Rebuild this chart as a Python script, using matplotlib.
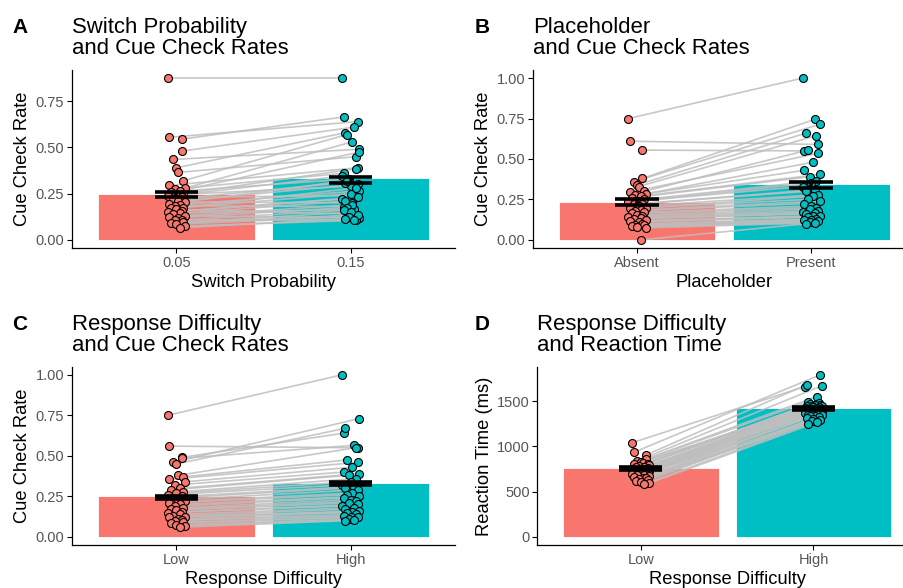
import numpy as np
import matplotlib
matplotlib.use("Agg")
import matplotlib.pyplot as plt

plt.rcParams['font.family'] = ['Liberation Sans', 'DejaVu Sans']

# colours (ggplot default two-level palette)
col_lo = '#F8766D'
col_hi = '#00BFC4'

# ---- panel A : switch probability
a_levels = ['0.05', '0.15']
a_left = [0.875, 0.555, 0.545, 0.48, 0.435, 0.39, 0.365, 0.32, 0.295, 0.28,
          0.275, 0.265, 0.26, 0.25, 0.245, 0.235, 0.23, 0.22, 0.21, 0.205,
          0.195, 0.19, 0.185, 0.175, 0.17, 0.165, 0.155, 0.15, 0.145, 0.14,
          0.13, 0.125, 0.12, 0.11, 0.105, 0.095, 0.09, 0.085, 0.075, 0.065]
a_right = [0.875, 0.64, 0.665, 0.61, 0.49, 0.58, 0.45, 0.57, 0.39, 0.53,
           0.36, 0.475, 0.33, 0.385, 0.29, 0.345, 0.24, 0.31, 0.3, 0.2,
           0.32, 0.265, 0.18, 0.25, 0.28, 0.14, 0.23, 0.22, 0.165, 0.21,
           0.12, 0.19, 0.175, 0.11, 0.16, 0.15, 0.135, 0.125, 0.105, 0.115]
a_bar = [0.25, 0.335]
a_mean = [0.245, 0.325]
a_se = [0.015, 0.015]

# ---- panel B : placeholder
b_levels = ['Absent', 'Present']
b_left = [0.75, 0.61, 0.555, 0.38, 0.36, 0.34, 0.33, 0.3, 0.295, 0.285,
          0.275, 0.27, 0.26, 0.25, 0.24, 0.235, 0.225, 0.22, 0.21, 0.2,
          0.195, 0.185, 0.18, 0.17, 0.165, 0.155, 0.15, 0.14, 0.135, 0.13,
          0.12, 0.115, 0.11, 0.1, 0.095, 0.09, 0.085, 0.08, 0.075, 0.0]
b_right = [1.0, 0.59, 0.55, 0.745, 0.715, 0.66, 0.645, 0.555, 0.535, 0.48,
           0.43, 0.405, 0.39, 0.365, 0.35, 0.33, 0.31, 0.3, 0.28, 0.27,
           0.25, 0.24, 0.225, 0.21, 0.2, 0.19, 0.18, 0.17, 0.165, 0.16,
           0.15, 0.145, 0.14, 0.13, 0.125, 0.12, 0.115, 0.11, 0.105, 0.1]
b_bar = [0.235, 0.344]
b_mean = [0.232, 0.338]
b_se = [0.018, 0.02]

# ---- panel C : response difficulty, cue checks
c_levels = ['Low', 'High']
c_left = [0.75, 0.56, 0.49, 0.485, 0.46, 0.45, 0.38, 0.37, 0.355, 0.34,
          0.32, 0.3, 0.29, 0.28, 0.27, 0.26, 0.25, 0.24, 0.23, 0.22,
          0.21, 0.2, 0.19, 0.18, 0.17, 0.165, 0.155, 0.15, 0.14, 0.13,
          0.125, 0.12, 0.11, 0.105, 0.1, 0.09, 0.085, 0.075, 0.07, 0.06]
c_right = [1.0, 0.55, 0.64, 0.565, 0.73, 0.67, 0.55, 0.475, 0.46, 0.43,
           0.4, 0.39, 0.38, 0.36, 0.34, 0.32, 0.31, 0.3, 0.29, 0.27,
           0.26, 0.25, 0.24, 0.23, 0.22, 0.21, 0.2, 0.19, 0.18, 0.17,
           0.16, 0.155, 0.15, 0.14, 0.13, 0.125, 0.12, 0.11, 0.105, 0.1]
c_bar = [0.253, 0.334]
c_mean = [0.245, 0.33]
c_se = [0.01, 0.01]

# ---- panel D : response difficulty, reaction time
d_levels = ['Low', 'High']
d_left = [1040, 935, 905, 860, 840, 830, 820, 810, 800, 790,
          785, 775, 770, 760, 755, 750, 745, 740, 735, 730,
          725, 720, 715, 710, 705, 700, 695, 690, 685, 680,
          670, 660, 655, 645, 635, 625, 615, 605, 595, 585]
d_right = [1660, 1790, 1680, 1550, 1670, 1495, 1480, 1470, 1460, 1455,
           1450, 1445, 1440, 1435, 1430, 1425, 1420, 1415, 1410, 1405,
           1400, 1395, 1390, 1385, 1380, 1375, 1370, 1365, 1360, 1350,
           1345, 1340, 1330, 1320, 1310, 1300, 1290, 1280, 1265, 1250]
d_bar = [764, 1427]
d_mean = [753, 1419]
d_se = [18, 18]

# horizontal jitter
jit_l = [-0.05, -0.04, 0.03, 0.03, -0.02, 0.0, 0.01, 0.04, -0.04, 0.05,
         -0.01, 0.02, -0.03, 0.04, 0.0, -0.05, 0.03, -0.02, 0.01, 0.05,
         -0.04, 0.02, -0.01, 0.04, -0.03, 0.0, 0.03, -0.05, 0.02, -0.02,
         0.05, -0.04, 0.01, 0.03, -0.01, 0.04, -0.03, 0.0, 0.05, 0.02]
jit_r = [-0.05, 0.04, -0.04, 0.02, 0.05, -0.03, 0.03, -0.02, 0.04, 0.01,
         -0.04, 0.05, -0.01, 0.03, 0.0, -0.05, 0.02, -0.03, 0.04, 0.01,
         -0.02, 0.05, -0.04, 0.0, 0.03, -0.01, 0.04, -0.05, 0.02, -0.03,
         0.05, 0.01, -0.02, 0.03, -0.04, 0.0, 0.04, -0.01, 0.02, -0.03]

W, H = 904, 588
fig = plt.figure(figsize=(W / 100, H / 100), dpi=100)


def px_axes(left, top, right, bottom):
    return fig.add_axes([left / W, 1 - bottom / H, (right - left) / W, (bottom - top) / H])


def panel(ax, left, right, levels, bars, means, ses, ylim, yticks, fmt, ylabel, xlabel):
    x = np.array([1, 2])
    ax.bar(x, bars, width=0.9, color=[col_lo, col_hi], edgecolor='white', linewidth=0.6, zorder=1)
    xl = x[0] + np.array(jit_l)
    xr = x[1] + np.array(jit_r)
    for i in range(len(left)):
        ax.plot([xl[i], xr[i]], [left[i], right[i]], color='#BEBEBE', lw=1.2, alpha=0.85, zorder=2)
    ax.scatter(xl, left, s=33, facecolor=col_lo, edgecolor='black', linewidth=0.8, zorder=3)
    ax.scatter(xr, right, s=33, facecolor=col_hi, edgecolor='black', linewidth=0.8, zorder=3)
    for xi, m, s in zip(x, means, ses):
        ax.hlines([m - s, m + s], xi - 0.125, xi + 0.125, color='black', lw=2.6, zorder=4)
        ax.vlines(xi, m - s, m + s, color='black', lw=2.6, zorder=4)
    ax.set_xlim(0.4, 2.6)
    ax.set_ylim(*ylim)
    ax.set_xticks(x)
    ax.set_xticklabels(levels)
    ax.set_yticks(yticks)
    ax.set_yticklabels([fmt.format(v) for v in yticks])
    for s in ['top', 'right']:
        ax.spines[s].set_visible(False)
    for s in ['left', 'bottom']:
        ax.spines[s].set_linewidth(0.9)
    ax.tick_params(labelsize=10.5, labelcolor='#555555', length=3.5, width=0.8, pad=2)
    ax.set_ylabel(ylabel, fontsize=13.2, labelpad=3)
    ax.set_xlabel(xlabel, fontsize=13.2, labelpad=3)


axA = px_axes(72, 70, 455, 248)
panel(axA, a_left, a_right, a_levels, a_bar, a_mean, a_se, (-0.044, 0.919),
      [0, 0.25, 0.5, 0.75], '{:.2f}', 'Cue Check Rate', 'Switch Probability')
axB = px_axes(532.7, 70, 915.7, 248)
panel(axB, b_left, b_right, b_levels, b_bar, b_mean, b_se, (-0.05, 1.05),
      [0, 0.25, 0.5, 0.75, 1.0], '{:.2f}', 'Cue Check Rate', 'Placeholder')
axC = px_axes(72, 366.7, 455, 545)
panel(axC, c_left, c_right, c_levels, c_bar, c_mean, c_se, (-0.05, 1.05),
      [0, 0.25, 0.5, 0.75, 1.0], '{:.2f}', 'Cue Check Rate', 'Response Difficulty')
axD = px_axes(537.3, 366.7, 917, 545)
panel(axD, d_left, d_right, d_levels, d_bar, d_mean, d_se, (-89.5, 1879.5),
      [0, 500, 1000, 1500], '{:.0f}', 'Reaction Time (ms)', 'Response Difficulty')

titles = [('A', 'Switch Probability\nand Cue Check Rates', 12, 72, 17),
          ('B', 'Placeholder\nand Cue Check Rates', 475, 533, 17),
          ('C', 'Response Difficulty\nand Cue Check Rates', 12, 72, 314),
          ('D', 'Response Difficulty\nand Reaction Time', 475, 537, 314)]
for letter, title, lx, tx, ty in titles:
    fig.text(lx / W, 1 - (ty + 1) / H, letter, fontsize=15, fontweight='bold', va='top', ha='left')
    fig.text(tx / W, 1 - ty / H, title, fontsize=15.9, va='top', ha='left', linespacing=1.0)

fig.savefig('out.png', dpi=100)
